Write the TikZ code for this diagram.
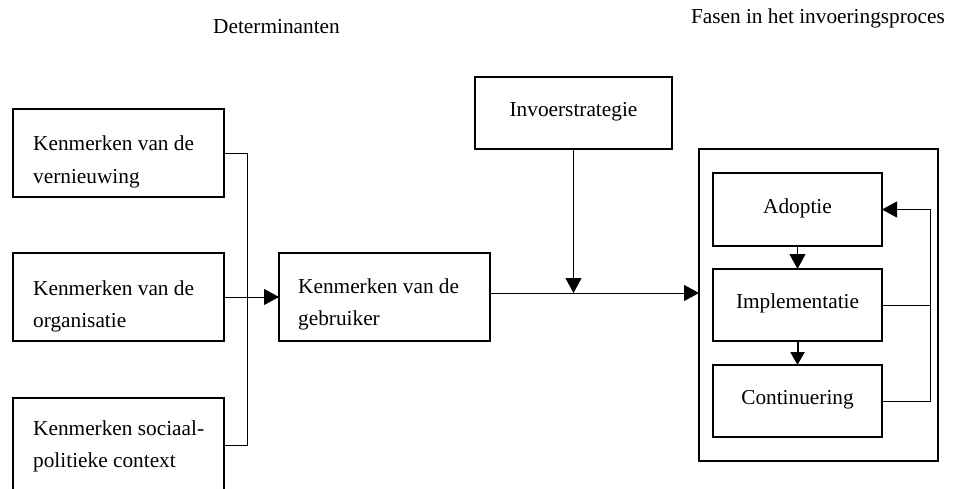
\documentclass[tikz,border=0pt]{standalone}
\usepackage{fontspec}
\setmainfont{Liberation Serif}
\usetikzlibrary{arrows.meta}
\begin{document}
\begin{tikzpicture}[x=1pt,y=-1pt,
  box/.style={draw, line width=1.8pt, inner sep=0pt, outer sep=0pt},
  txt/.style={inner sep=0pt, font=\fontsize{21.3}{32}\selectfont},
  conn/.style={line width=1pt},
  arr/.style={conn, -{Triangle[length=15pt,width=16pt]}}]
\useasboundingbox (0,0) rectangle (953,488);
\fill[white] (0,0) rectangle (953,488);
% titles
\node[txt, anchor=base west] (t1) at (213,33) {Determinanten};
\node[txt, anchor=base east] (t2) at (945,23) {Fasen in het invoeringsproces};
% left boxes
\node[box, minimum width=211, minimum height=88] (v) at (118.5,153) {};
\node[txt, anchor=base west] (v1) at (33,150) {Kenmerken van de};
\node[txt, anchor=base west] (v2) at (33,183) {vernieuwing};
\node[box, minimum width=211, minimum height=88] (o) at (118.5,297) {};
\node[txt, anchor=base west] (o1) at (33,295) {Kenmerken van de};
\node[txt, anchor=base west] (o2) at (33,327) {organisatie};
\node[box, minimum width=211, minimum height=96] (s) at (118.5,446) {};
\node[txt, anchor=base west] (s1) at (33,435) {Kenmerken sociaal-};
\node[txt, anchor=base west] (s2) at (33,467) {politieke context};
% user box
\node[box, minimum width=211, minimum height=88] (g) at (384.5,297) {};
\node[txt, anchor=base west] (g1) at (298,293) {Kenmerken van de};
\node[txt, anchor=base west] (g2) at (298,325) {gebruiker};
% strategy
\node[box, minimum width=197, minimum height=72] (i) at (573.5,113) {};
\node[txt, anchor=base] (i1) at (573.5,116) {Invoerstrategie};
% phases
\node[box, minimum width=239, minimum height=312] (f) at (818.5,305) {};
\node[box, minimum width=169, minimum height=73] (a) at (797.5,209.5) {};
\node[txt, anchor=base] (a1) at (797.5,213) {Adoptie};
\node[box, minimum width=169, minimum height=72] (m) at (797.5,305) {};
\node[txt, anchor=base] (m1) at (797.5,308) {Implementatie};
\node[box, minimum width=169, minimum height=72] (c) at (797.5,401) {};
\node[txt, anchor=base] (c1) at (797.5,404) {Continuering};
% connectors
\coordinate (jt) at (247,153);
\coordinate (jb) at (247,445);
\coordinate (h) at (573.5,293);
\coordinate (fbx) at (930.5,0);
\draw[conn] (v.east |- jt) -- (jt) -- (jb) -- (s.east |- jb);
\draw[arr] (o.east) -- (g.west);
\draw[arr] (g.east |- h) -- (f.west |- h);
\draw[arr] (i.south) -- (h);
\draw[arr] (a.south) -- (m.north);
\draw[arr, line width=2pt, -{Triangle[length=13pt,width=14pt]}] (m.south) -- (c.north);
\draw[conn] (m.east) -- (m.east -| fbx);
\draw[arr] (c.east) -- (c.east -| fbx) -- (a.east -| fbx) -- (a.east);
\end{tikzpicture}
\end{document}
